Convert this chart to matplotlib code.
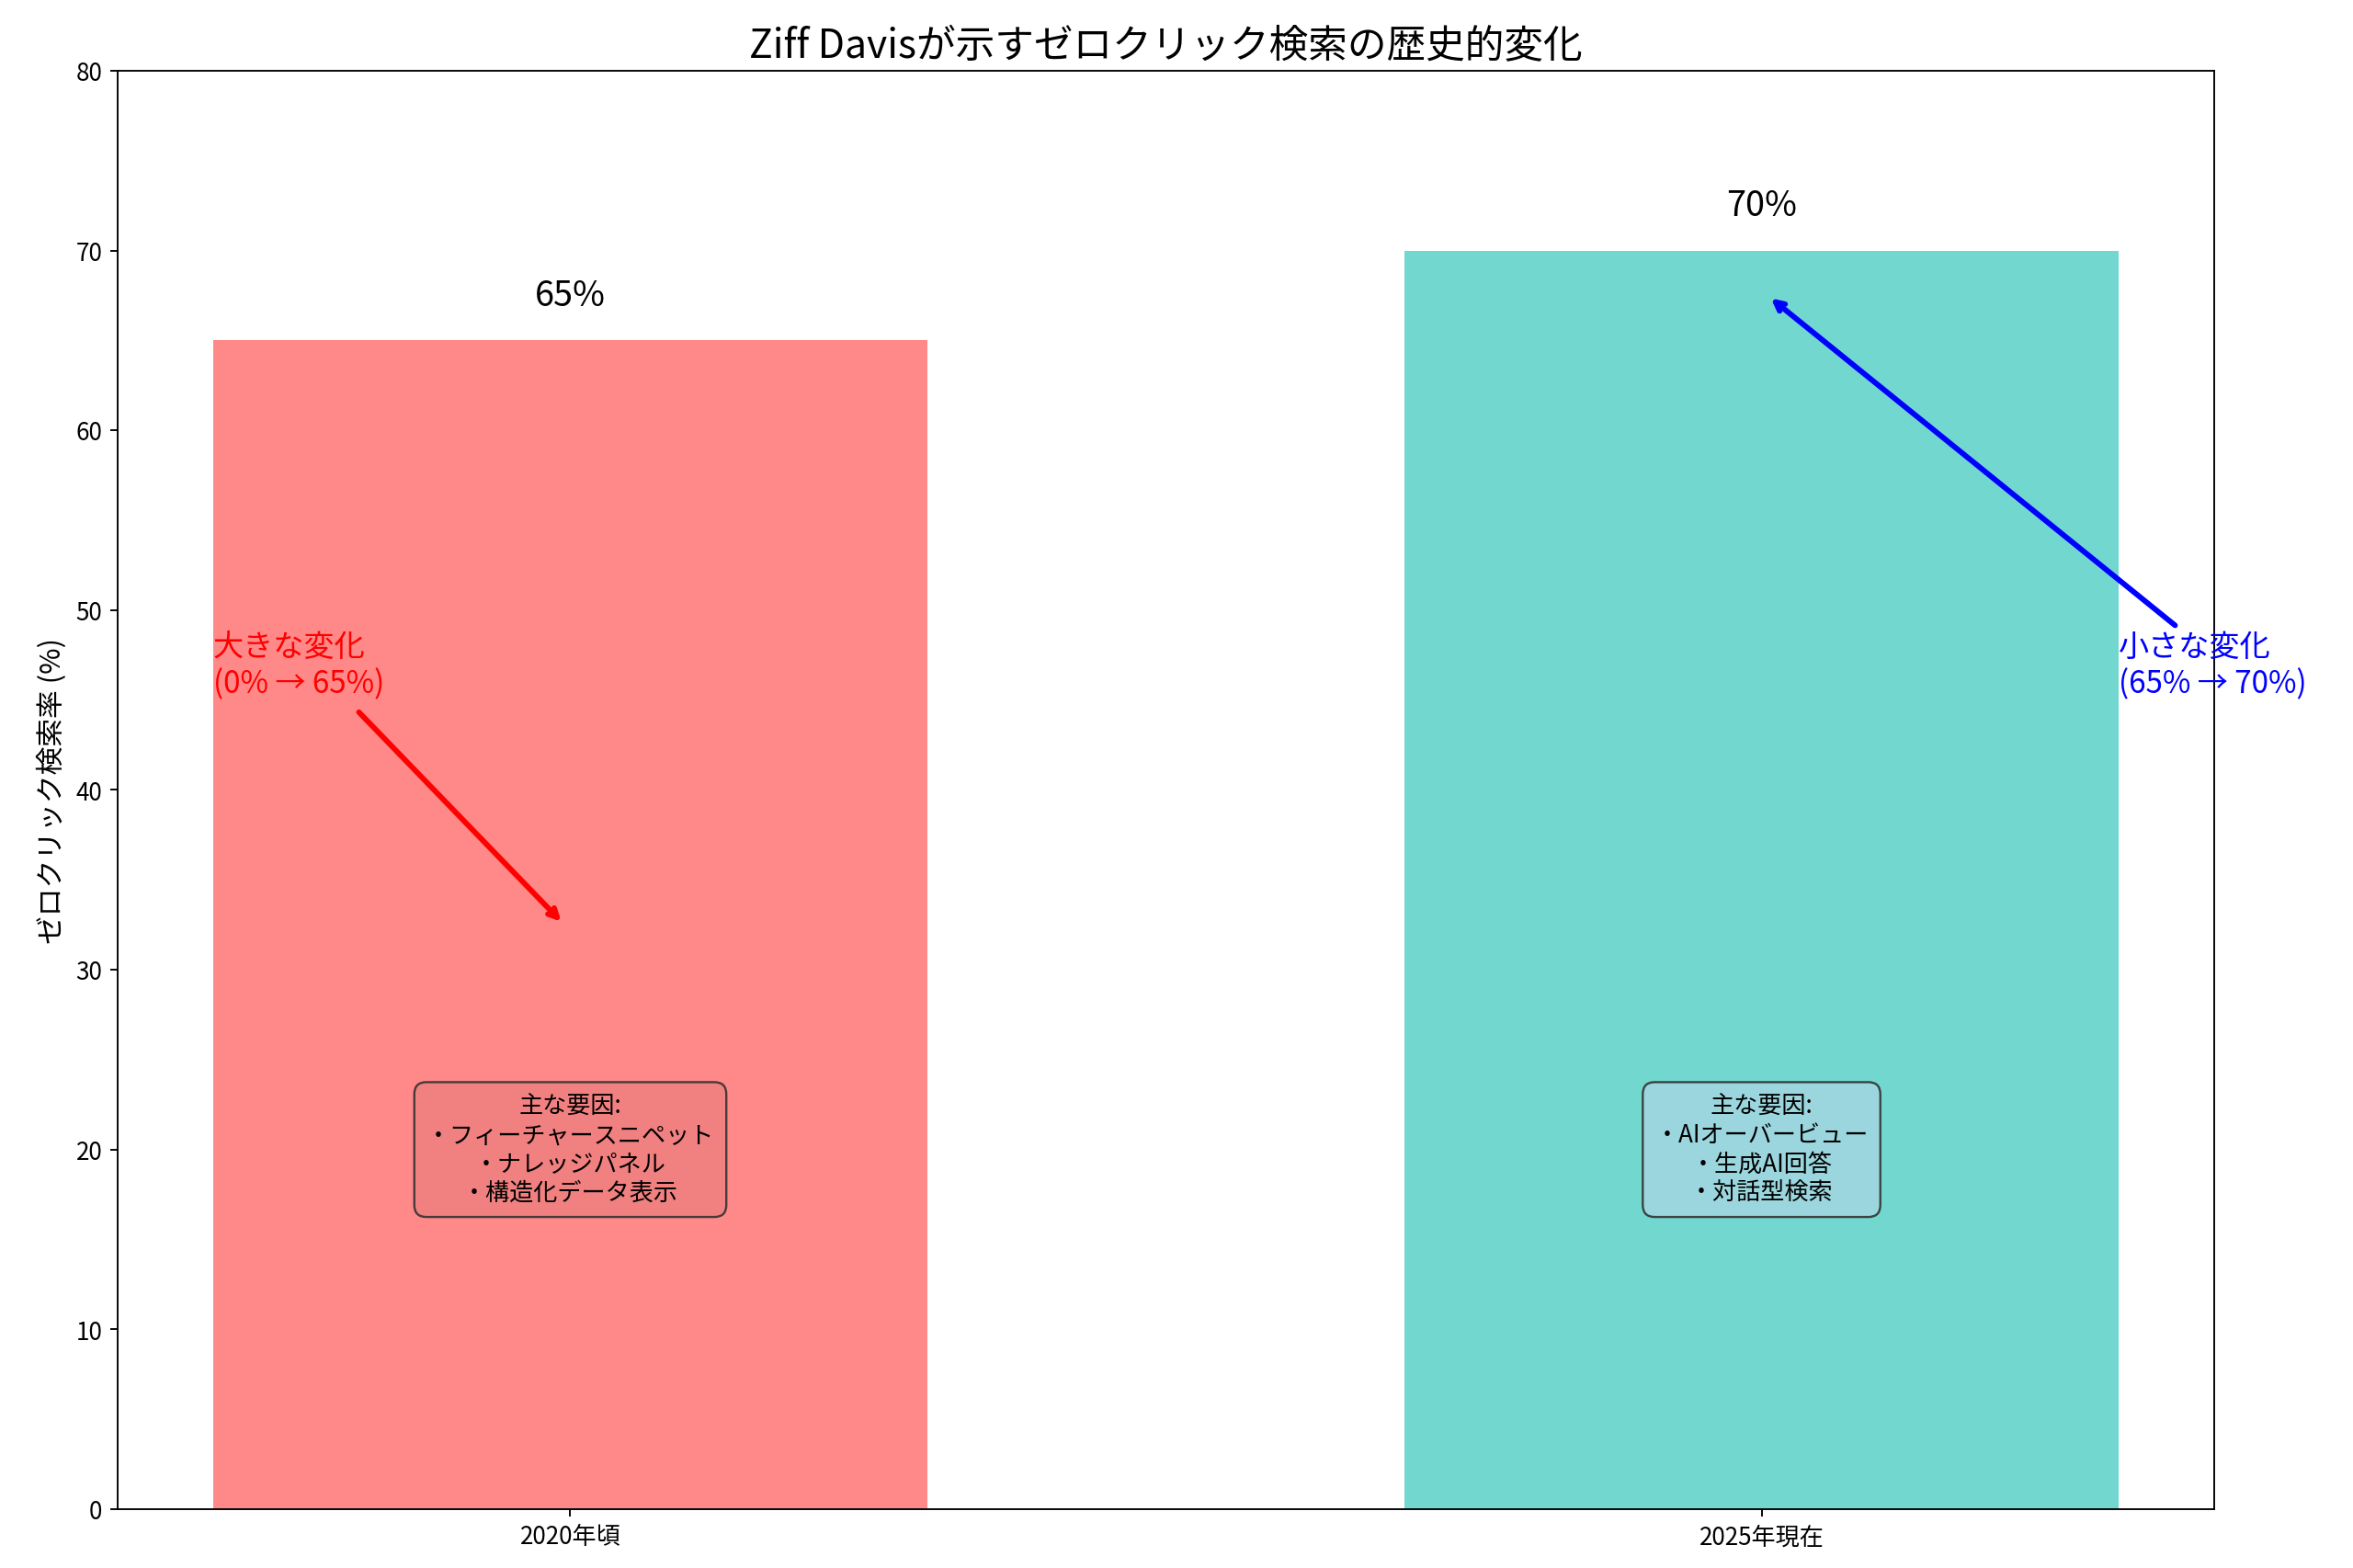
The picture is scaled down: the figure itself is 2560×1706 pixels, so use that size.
import matplotlib
matplotlib.use("Agg")
import matplotlib.pyplot as plt

plt.rcParams["font.family"] = "Noto Sans CJK JP"

categories = ["2020年頃", "2025年現在"]
values = [65, 70]
colors = ["#FF6B6B", "#4ECDC4"]
factors = ["主な要因:\n・フィーチャースニペット\n・ナレッジパネル\n・構造化データ表示",
           "主な要因:\n・AIオーバービュー\n・生成AI回答\n・対話型検索"]
box_colors = ["#F08080", "#A0D6E0"]

fig = plt.figure(figsize=(15, 10), dpi=170.67)
ax = fig.add_axes([0.05, 0.0375, 0.891, 0.917])
x = list(range(len(categories)))
ax.bar(x, values, width=0.6, color=colors, alpha=0.8)
ax.set_xticks(x)
ax.set_xticklabels(categories, fontsize=11)
ax.set_xlim(-0.38, 1.38)
ax.set_ylim(0, 80)
ax.tick_params(axis="y", labelsize=11)
ax.set_ylabel("ゼロクリック検索率 (%)", fontsize=13)
ax.set_title("Ziff Davisが示すゼロクリック検索の歴史的変化", fontsize=18)

for xi, v in zip(x, values):
    ax.text(xi, v + 1.5, f"{v}%", ha="center", va="bottom", fontsize=16)

for xi, t, bc in zip(x, factors, box_colors):
    ax.text(xi, 20, t, ha="center", va="center", fontsize=11,
            bbox=dict(boxstyle="round,pad=0.5", facecolor=bc, edgecolor="#333333", alpha=0.9))

ax.text(-0.3, 45, "大きな変化\n(0% → 65%)", color="red", fontsize=14, ha="left", va="bottom")
ax.annotate("", xy=(-0.005, 32.5), xytext=(-0.18, 44.5),
            arrowprops=dict(arrowstyle="->", color="red", lw=2.5))
ax.text(1.3, 45, "小さな変化\n(65% → 70%)", color="blue", fontsize=14, ha="left", va="bottom")
ax.annotate("", xy=(1.005, 67.5), xytext=(1.35, 49),
            arrowprops=dict(arrowstyle="->", color="blue", lw=2.5))

fig.savefig("out.png", dpi=170.67)
